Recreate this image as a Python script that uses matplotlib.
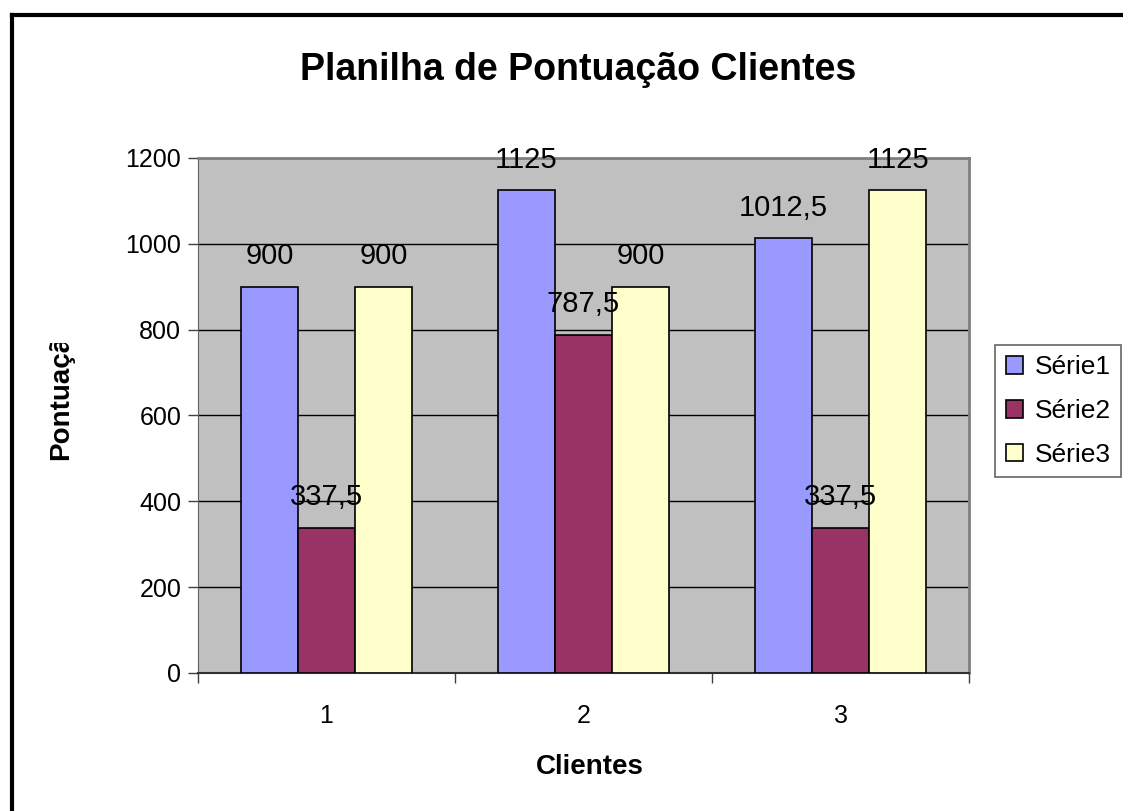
import numpy as np
import matplotlib.pyplot as plt
from matplotlib.lines import Line2D
from matplotlib.patches import Rectangle

plt.rcParams['font.family'] = ['Liberation Sans', 'DejaVu Sans']

categories = ['1', '2', '3']
serie1 = [900, 1125, 1012.5]
serie2 = [337.5, 787.5, 337.5]
serie3 = [900, 900, 1125]
series_names = ['Série1', 'Série2', 'Série3']
colors = ['#9999FF', '#993366', '#FFFFCC']


def fmt(v):
    return ('%g' % v).replace('.', ',')


fig = plt.figure(figsize=(11.23, 8.11), dpi=100)
ax = fig.add_axes([0.1763, 0.1702, 0.6866, 0.635])
ax.set_facecolor('#C0C0C0')

x = np.arange(1, len(categories) + 1)
w = 1 / 4.5
for i, (vals, name, c) in enumerate(zip([serie1, serie2, serie3], series_names, colors)):
    pos = x + (i - 1) * w
    ax.bar(pos, vals, width=w, color=c, edgecolor='black', linewidth=1.2,
           label=name, zorder=3)
    for p, v in zip(pos, vals):
        ax.annotate(fmt(v), (p, v), xytext=(0, 12), textcoords='offset points',
                    ha='center', va='bottom', fontsize=21, zorder=5,
                    annotation_clip=False)

ax.set_xlim(0.5, 3.5)
ax.set_ylim(0, 1200)
ax.set_yticks(range(0, 1201, 200))
ax.tick_params(axis='y', labelsize=18, length=7, width=1, color='#404040', pad=5)
ax.yaxis.grid(True, color='black', linewidth=1, zorder=1)
ax.set_axisbelow(True)

ax.set_xticks([0.5, 1.5, 2.5, 3.5])
ax.set_xticklabels([])
ax.set_xticks(x, minor=True)
ax.set_xticklabels(categories, minor=True, fontsize=18)
ax.tick_params(axis='x', which='major', length=7, width=1, color='#404040')
ax.tick_params(axis='x', which='minor', length=0, pad=22)

for s in ['top', 'right']:
    ax.spines[s].set_color('#808080')
    ax.spines[s].set_linewidth(2)
ax.spines['left'].set_color('#606060')
ax.spines['bottom'].set_color('#303030')
ax.spines['bottom'].set_linewidth(1.5)

fig.text(0.515, 0.914, 'Planilha de Pontuação Clientes', ha='center', va='center',
         fontsize=27, fontweight='bold')
fig.text(0.525, 0.054, 'Clientes', ha='center', va='center',
         fontsize=20, fontweight='bold')
yl = fig.text(0.054, 0.433, 'Pontuação', ha='center', va='bottom', rotation=90,
              fontsize=20, fontweight='bold')
clip = Rectangle((0, 0.4), 1, 0.177, transform=fig.transFigure)
yl.set_clip_path(clip)

leg = fig.legend(loc='upper left', bbox_to_anchor=(0.886, 0.575), fontsize=19,
                 frameon=True, fancybox=False, edgecolor='#404040',
                 handlelength=0.65, handleheight=0.65, handletextpad=0.45,
                 labelspacing=0.75, borderpad=0.4, borderaxespad=0)
leg.get_frame().set_linewidth(1.2)

fig.add_artist(Line2D([0.011, 0.011], [0, 0.982], color='black', linewidth=3,
                      transform=fig.transFigure))
fig.add_artist(Line2D([0.011, 1], [0.982, 0.982], color='black', linewidth=3,
                      transform=fig.transFigure))

fig.savefig('out.png', dpi=100)
